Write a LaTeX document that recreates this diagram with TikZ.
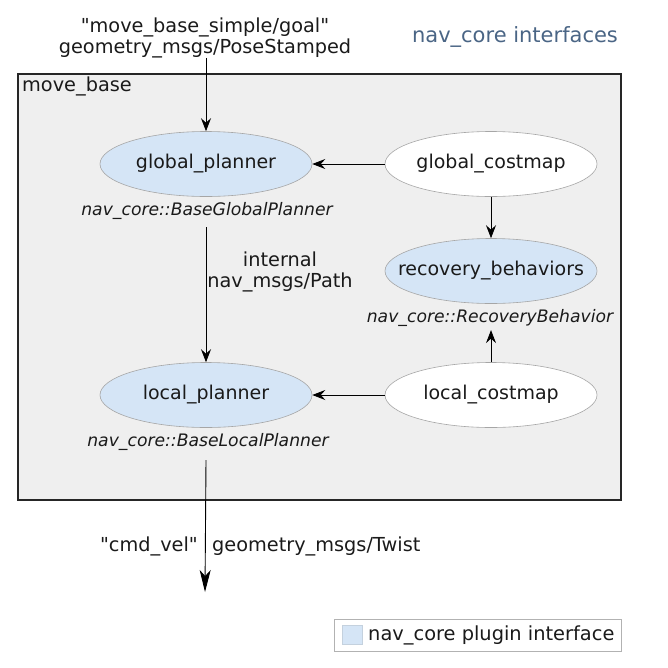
\documentclass[tikz,border=0pt]{standalone}
\usepackage{fontspec}
\setmainfont{DejaVu Sans}
\usetikzlibrary{shapes.geometric,arrows.meta}
\definecolor{plugin}{HTML}{D5E5F6}
\definecolor{boxgrey}{HTML}{EFEFEF}
\definecolor{titleblue}{HTML}{4A6585}
\definecolor{txt}{HTML}{1A1A1A}
\begin{document}
\begin{tikzpicture}[x=1pt,y=-1pt,
  comp/.style={ellipse, draw=gray!70, line width=0.6pt, minimum width=212pt, minimum height=65pt, inner xsep=-20pt, inner ysep=0pt, text=txt, font=\fontsize{19}{22}\selectfont},
  plug/.style={comp, fill=plugin},
  plainc/.style={comp, fill=white},
  iface/.style={text=txt, font=\fontsize{17.2}{20}\selectfont\itshape},
  lbl/.style={text=txt, font=\fontsize{19.3}{21}\selectfont, align=center, inner sep=0pt},
  arr/.style={-{Stealth[length=13pt,width=10pt,inset=4.5pt]}, line width=0.8pt},
  bigarr/.style={-{Stealth[length=22pt,width=11pt,inset=6pt]}, line width=0.9pt}]
\useasboundingbox (0,0) rectangle (668,667);
% container
\node[draw=black!85, line width=1.8pt, fill=boxgrey, minimum width=603pt, minimum height=426pt, inner sep=0pt, anchor=north west] (mb) at (17,73) {};
\node[lbl, anchor=north west] (mblabel) at (22,77) {move\_base};
% title
\node[text=titleblue, font=\fontsize{21}{24}\selectfont, inner sep=0pt] (title) at (515,37) {nav\_core interfaces};
% goal topic
\node[lbl, font=\fontsize{19.3}{19}\selectfont] (goal) at (205,38) {\textquotedbl move\_base\_simple/goal\textquotedbl\\geometry\_msgs/PoseStamped};
% components
\node[plug] (gp) at (206,164) {global\_planner};
\node[plainc] (gc) at (491,164) {global\_costmap};
\node[plug] (rb) at (491,271) {recovery\_behaviors};
\node[plainc] (lc) at (491,395) {local\_costmap};
\node[plug] (lp) at (206,395) {local\_planner};
% interface labels
\node[iface] (gpi) at (207,211) {nav\_core::BaseGlobalPlanner};
\node[iface] (rbi) at (490,318) {nav\_core::RecoveryBehavior};
\node[iface] (lpi) at (208,442) {nav\_core::BaseLocalPlanner};
% path label
\node[lbl] (path) at (280,272) {internal\\nav\_msgs/Path};
% cmd_vel
\coordinate (cmdend) at (205,592);
\node[lbl, anchor=east] (cmd) at (198,546) {\textquotedbl cmd\_vel\textquotedbl};
\node[lbl, anchor=west] (twist) at (212,546) {geometry\_msgs/Twist};
% connectors
\draw[arr] (goal.south -| gp.north) -- (gp.north);
\draw[arr] (gc.west) -- (gp.east);
\draw[arr] (gc.south) -- (rb.north);
\draw[arr] (lc.north) -- (rbi.south -| lc.north);
\draw[arr] (lc.west) -- (lp.east);
\draw[arr] (gpi.south -| gp.south) ++(0,4) -- (lp.north);
\draw[bigarr] (lpi.south -| lp.south) ++(0,6) -- (cmdend);
% legend
\node[draw=gray!60, line width=0.8pt, minimum width=287pt, minimum height=32pt, inner sep=0pt, anchor=north west] (legend) at (334,619) {};
\node[fill=plugin, draw=plugin!80!gray, minimum width=20pt, minimum height=19pt, inner sep=0pt] (legsq) at (352,634.5) {};
\node[text=txt, font=\fontsize{19.4}{22}\selectfont, anchor=west, inner sep=0pt] (legtext) at (368,635) {nav\_core plugin interface};
\end{tikzpicture}
\end{document}
